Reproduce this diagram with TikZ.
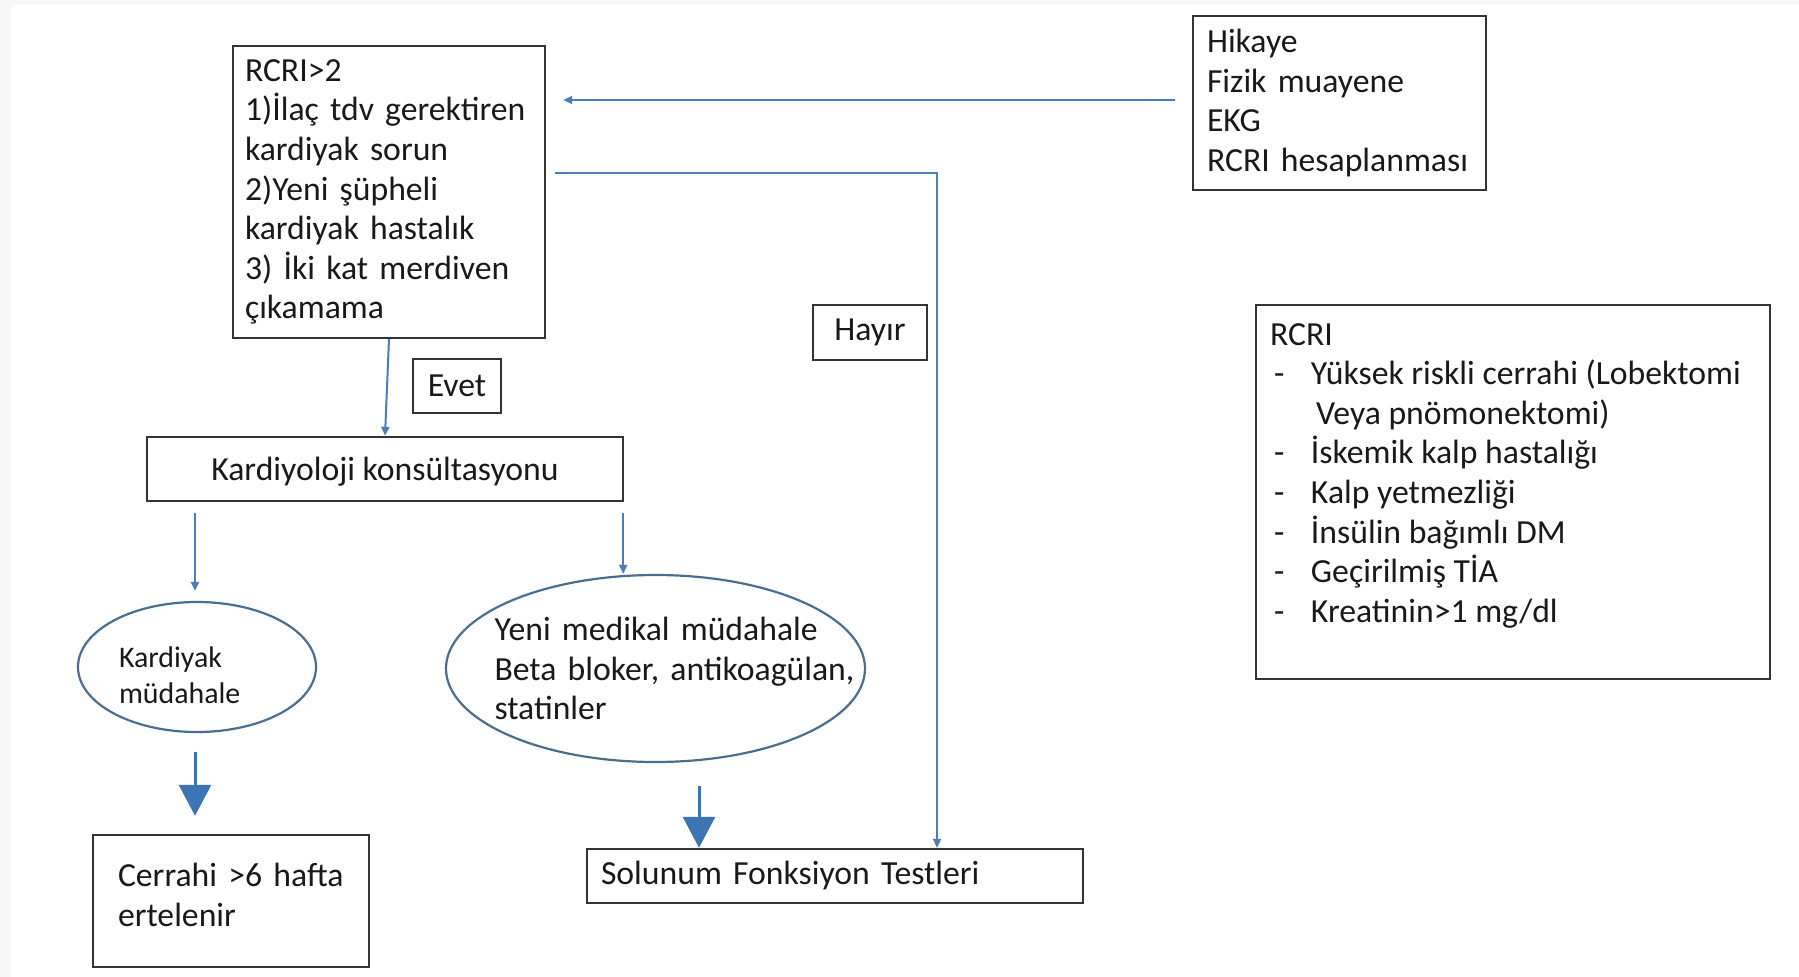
\documentclass[tikz,border=0pt]{standalone}
\usepackage{fontspec}
\setmainfont{Carlito}
\usepackage{tikz}
\usetikzlibrary{positioning,arrows.meta,shapes.geometric}
\definecolor{linkblue}{HTML}{4A7EBB}
\definecolor{arrowblue}{HTML}{3D74B6}
\definecolor{ovalline}{HTML}{4B6E8E}
\definecolor{boxline}{HTML}{333333}

\tikzset{
  box/.style={draw=boxline, line width=2.4pt, align=left, inner sep=0pt, text=black!90},
  oval/.style={ellipse, draw=ovalline, line width=2.2pt, align=left, inner sep=0pt, text=black!90},
  tag/.style={draw=boxline, line width=2.4pt, inner sep=0pt, text=black!90},
  conn/.style={draw=linkblue, line width=2pt, -{Triangle[length=9pt,width=8pt]}},
  bigarrow/.style={draw=arrowblue, line width=3pt, -{Triangle[length=31pt,width=32pt]}},
}
\newcommand{\dashitem}{\makebox[41pt][l]{\hspace{4pt}-}}

\begin{document}
\begin{tikzpicture}[x=1pt, y=-1pt, font=\fontsize{33.7}{39.6}\selectfont]
% page and faint frame
\fill[gray!6] (0,0) rectangle (1799,977);
\fill[white] (11,5) rectangle (1799,977);
\useasboundingbox (0,0) rectangle (1799,977);

% boxes
\node[box, minimum width=312pt, minimum height=292pt, text width=288pt] (rcri) at (389,192)
  {RCRI>2\\1)İlaç tdv gerektiren\\kardiyak sorun\\2)Yeni şüpheli\\kardiyak hastalık\\3) İki kat merdiven\\çıkamama};
\node[box, minimum width=293pt, minimum height=174pt, text width=265pt] (hik) at (1339.5,103)
  {Hikaye\\Fizik muayene\\EKG\\RCRI hesaplanması};
\node[box, align=center, minimum width=476pt, minimum height=64pt, text depth=0pt] (kard) at (385,469)
  {Kardiyoloji konsültasyonu};
\node[oval, minimum width=238pt, minimum height=130pt, text width=156pt,
      font=\fontsize{29.9}{35.6}\selectfont] (kdy) at (197,667) {\rule{0pt}{37pt}Kardiyak\\müdahale};
\node[oval, minimum width=419pt, minimum height=187pt, text width=322pt, inner xsep=-20pt] (yeni) at (655.5,668.5)
  {\mbox{Yeni medikal müdahale}\\\mbox{Beta bloker, antikoagülan,}\\statinler};
\node[box, minimum width=276pt, minimum height=132pt, text width=226pt, text depth=51.6pt] (cer) at (231,901)
  {Cerrahi >6 hafta\\ertelenir};
\node[box, minimum width=496pt, minimum height=54pt, text width=468pt] (sft) at (835,876)
  {Solunum Fonksiyon Testleri};
\node[box, minimum width=514pt, minimum height=374pt] (list) at (1513,492)
  {\parbox[c][350pt][t]{486pt}{\rule{0pt}{28pt}RCRI\\
   \dashitem Yüksek riskli cerrahi (Lobektomi\\
   \hspace*{46pt}Veya pnömonektomi)\\
   \dashitem İskemik kalp hastalığı\\
   \dashitem Kalp yetmezliği\\
   \dashitem İnsülin bağımlı DM\\
   \dashitem Geçirilmiş TİA\\
   \dashitem Kreatinin>1 mg/dl}};

% answer tags
\node[tag, minimum width=114pt, minimum height=55pt] (hayir) at (870,332.5) {Hayır};
\node[tag, minimum width=88pt, minimum height=54pt] (evet) at (457,386) {Evet};

% connectors
\coordinate (row1) at (0,100);
\coordinate (row2) at (0,173);
\coordinate (col1) at (937,0);
\coordinate (col2) at ([xshift=-2pt]kdy.center);
\coordinate (kard-r) at ([xshift=-1pt]kard.south east);
\coordinate (yeni-out) at ([xshift=43.5pt]yeni.south);

\draw[conn, shorten <=17pt, shorten >=17pt] (hik.west |- row1) -- (rcri.east |- row1);
\draw[conn, shorten <=9pt] (rcri.east |- row2) -| (sft.north -| col1);
\draw[conn] (rcri.south) -- (kard.north);
\draw[conn, shorten <=11pt, shorten >=10pt] (kard.south -| col2) -- (kdy.north -| col2);
\draw[conn, shorten <=11pt] (kard-r) -- (kard-r |- yeni.north);
\draw[bigarrow, shorten <=19pt, shorten >=18pt] (kdy.south -| col2) -- (cer.north -| col2);
\draw[bigarrow, shorten <=23pt] (yeni-out) -- (yeni-out |- sft.north);
\end{tikzpicture}
\end{document}
